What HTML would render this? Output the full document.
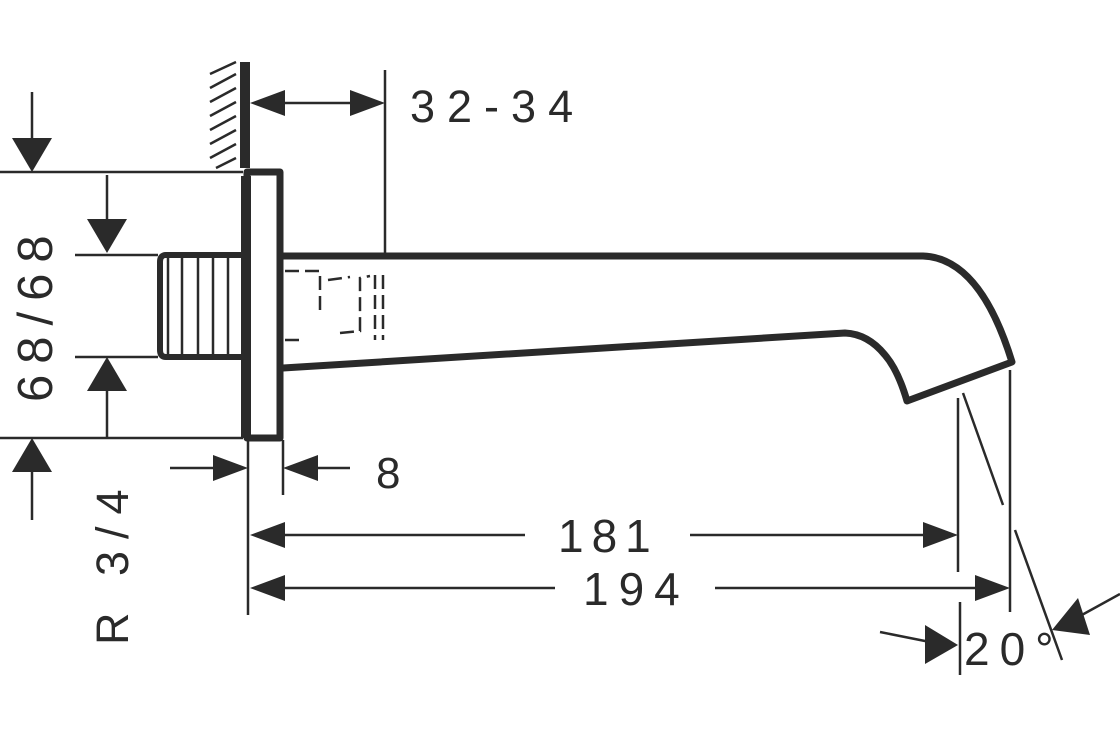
<!DOCTYPE html>
<html><head><style>body{margin:0;background:#fff}svg{display:block}text{font-family:"Liberation Sans",sans-serif;fill:#2a2a2a}</style></head>
<body>
<svg width="1120" height="750" viewBox="0 0 1120 750" xmlns="http://www.w3.org/2000/svg">
<g stroke="#2a2a2a" fill="none">
<rect x="240" y="62" width="10" height="106" fill="#2a2a2a" stroke="none"/>
<g stroke-width="2.5">
<path d="M210 74 L236 62 M210 88 L236 74 M210 102 L236 88 M210 116 L236 102 M210 130 L236 116 M210 144 L236 130 M210 158 L236 144 M216 168 L236 158"/>
</g>
<path d="M247 172 L280 172 L280 438 L247 438 Z" stroke-width="7" stroke-linejoin="round"/>
<rect x="241" y="176" width="10" height="262" fill="#2a2a2a" stroke="none"/>
<path d="M243 255 L166 255 Q160 255 160 262 L160 350 Q160 357 166 357 L243 357" stroke-width="6"/>
<path d="M168 258 V355 M182 258 V355 M198 258 V355 M213 258 V355 M228 258 V355" stroke-width="2.5"/>
<path d="M283 256 L923 256 Q980 258 1012 362 L907 401 Q898 370 885 355 Q868 334 845 333 L283 368" stroke-width="7" stroke-linejoin="round"/>
<path d="M285 271 L320 271 L320 310 M285 340 L305 340 M328 280 L350 277 M340 333 L360 331 L360 278 L370 276 M375 275 V340 M383 275 V340" stroke-width="2.5" stroke-dasharray="14 6"/>
<g stroke-width="2.5">
<path d="M385 70 V255"/>
<path d="M260 103 H375"/>
<path d="M0 172 H243 M0 438 H243 M75 255 H158 M75 357 H158"/>
<path d="M32 92 V165 M32 445 V520 M107 175 V245 M107 365 V438"/>
<path d="M170 468 H240 M290 468 H350"/>
<path d="M248 440 V615 M283 440 V495"/>
<path d="M260 535 H525 M690 535 H948"/>
<path d="M260 588 H555 M715 588 H1000"/>
<path d="M958 398 V572 M1010 370 V612"/>
<path d="M963 393 L1003 505 M1015 530 L1062 660"/>
<path d="M960 602 V675"/>
<path d="M880 632 Q910 638 930 642 M1120 594 L1080 616"/>
</g>
</g>
<g fill="#2a2a2a">
<path d="M250 103 L285 90 L285 116 Z"/>
<path d="M385 103 L350 90 L350 116 Z"/>
<path d="M32 172 L12 138 L52 138 Z"/>
<path d="M32 438 L12 472 L52 472 Z"/>
<path d="M107 253 L87 219 L127 219 Z"/>
<path d="M107 357 L87 391 L127 391 Z"/>
<path d="M248 468 L213 455 L213 481 Z"/>
<path d="M283 468 L318 455 L318 481 Z"/>
<path d="M250 535 L285 522 L285 548 Z"/>
<path d="M958 535 L923 522 L923 548 Z"/>
<path d="M250 588 L285 575 L285 601 Z"/>
<path d="M1010 588 L975 575 L975 601 Z"/>
<path d="M958 645 L925 625 L925 664 Z"/>
<path d="M1052 630 L1078 598 L1090 635 Z"/>
</g>
<text x="410" y="122" font-size="45" letter-spacing="12">32-34</text>
<text x="376" y="488" font-size="44">8</text>
<text x="558" y="552" font-size="46" letter-spacing="8">181</text>
<text x="583" y="605" font-size="46" letter-spacing="10">194</text>
<text x="964" y="665" font-size="46" letter-spacing="10">20°</text>
<text transform="translate(52,402) rotate(-90)" font-size="49" letter-spacing="11">68/68</text>
<text transform="translate(128,645) rotate(-90)" font-size="45" letter-spacing="12">R 3/4</text>
</svg>
</body></html>
